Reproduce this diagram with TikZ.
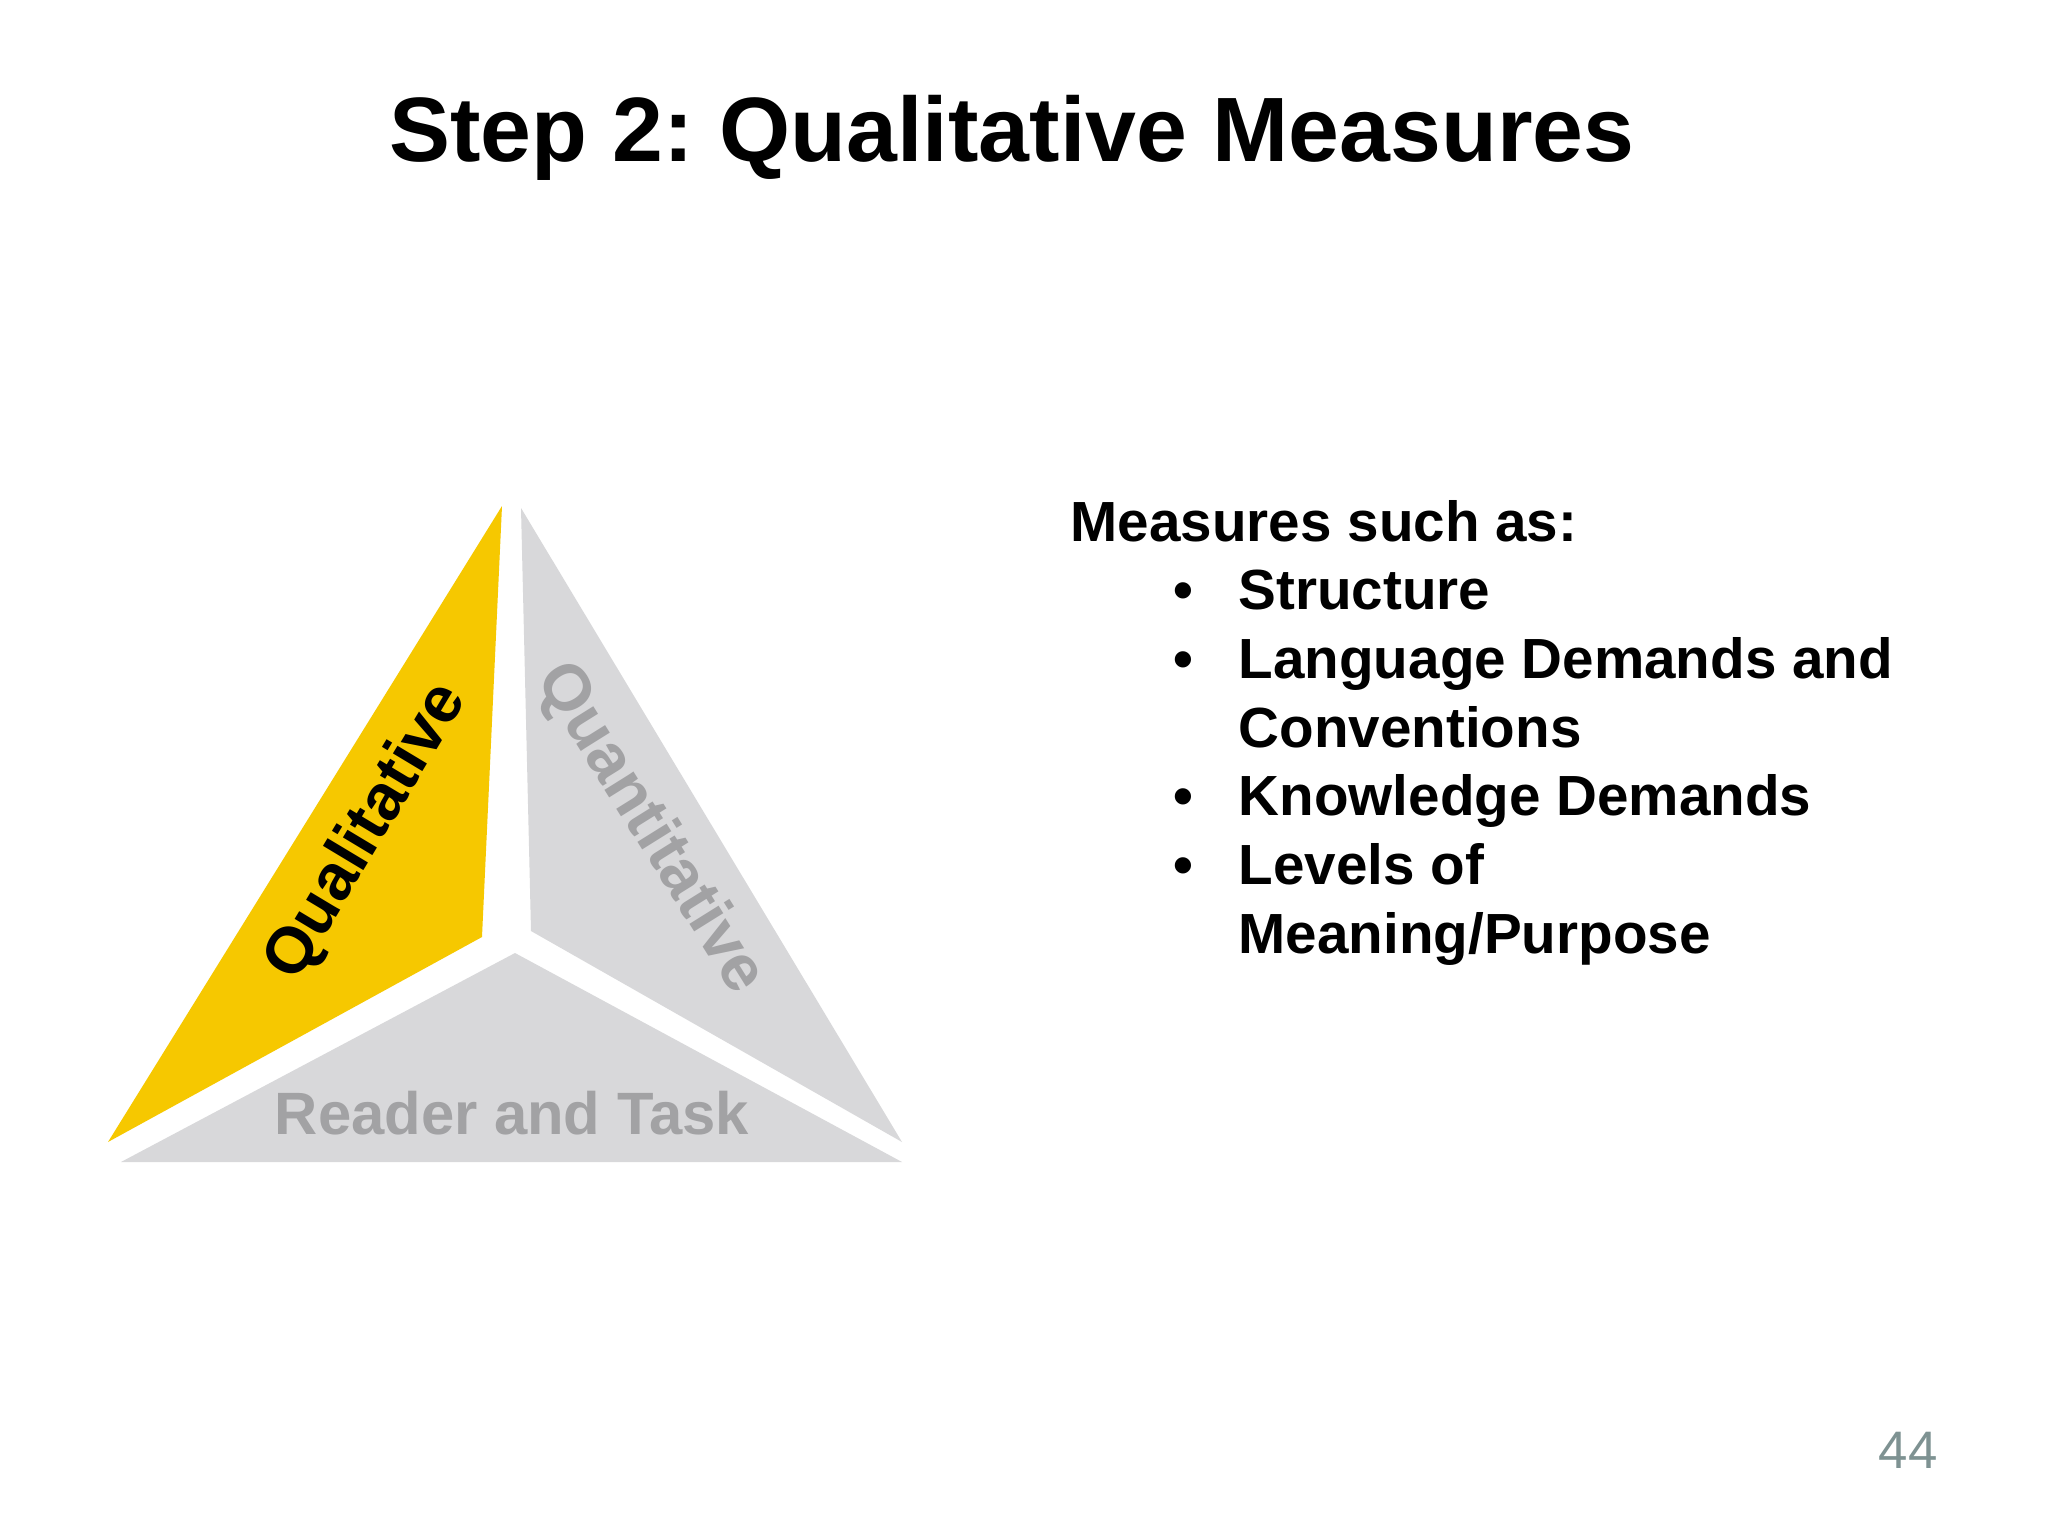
\documentclass[tikz,border=0pt]{standalone}
\usepackage{fontspec}
\setmainfont{Liberation Sans}
\frenchspacing
\definecolor{qyellow}{HTML}{F6C800}
\definecolor{qgray}{HTML}{D8D8DA}
\definecolor{lgray}{HTML}{A2A2A4}
\definecolor{pnum}{HTML}{7E9292}
\begin{document}
\begin{tikzpicture}[x=0.01cm,y=-0.01cm,
  lbl/.style={font=\fontsize{18.5}{22}\selectfont\bfseries},
  body/.style={font=\fontsize{16.1}{19}\selectfont\bfseries,anchor=base west,inner sep=0}]
\useasboundingbox (0,0) rectangle (2048,1536);
\fill[white] (0,0) rectangle (2048,1536);
\node[font=\fontsize{26}{32}\selectfont\bfseries] (title) at (1012,138) {Step 2: Qualitative Measures};
% triangle pieces
\fill[qyellow] (502,506) -- (482,937) -- (108,1142) -- cycle;
\fill[qgray] (521,508) -- (531,931) -- (902,1142) -- cycle;
\fill[qgray] (515,953) -- (902,1162) -- (121,1162) -- cycle;
\node[lbl,rotate=59] (qual) at (367,832) {Qualitative};
\node[lbl,text=lgray,rotate=-58] (quan) at (650,829) {Quantitative};
\node[text=lgray,font=\fontsize{17}{20}\selectfont\bfseries] (rt) at (512,1113) {Reader and Task};
% text
\node[body] (m) at (1070,541) {Measures such as:};
\foreach \y/\t [count=\i] in {609/{Structure},678/{Language Demands and},747/{Conventions},815/{Knowledge Demands},884/{Levels of},953/{Meaning/Purpose}}{
  \node[body] (t\i) at (1238,\y) {\t};
}
\foreach \y [count=\i] in {609,678,815,884}{
  \node[body] (b\i) at (1173,\y) {•};
}
\node[font=\fontsize{15}{18}\selectfont,text=pnum] (pn) at (1908,1450) {44};
\end{tikzpicture}
\end{document}
